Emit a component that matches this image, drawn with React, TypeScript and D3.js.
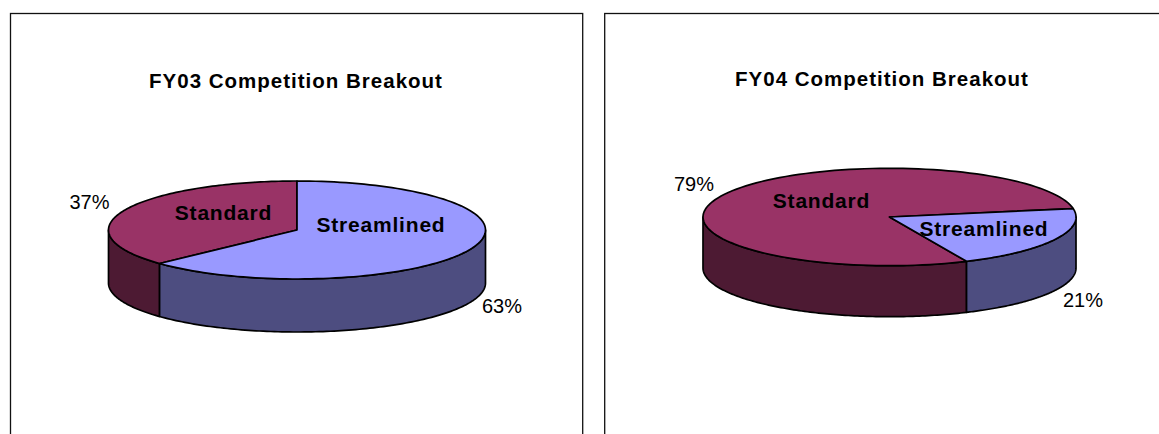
import React from "react";
import * as d3 from "d3";

const categories = ["Standard", "Streamlined"];
const fy03Values = [37, 63];
const fy04Values = [79, 21];
const titles = ["FY03 Competition Breakout", "FY04 Competition Breakout"];
const topColors = ["#993366", "#9999ff"];
const sideColors = ["#4d1a33", "#4d4d80"];
const FONT = '"Liberation Sans", Arial, sans-serif';

type PieCfg = {
  values: number[];
  title: string;
  titleX: number;
  titleY: number;
  frame: [number, number];
  cx: number;
  cy: number;
  rx: number;
  ry: number;
  depth: number;
  rotation: number;
  labelPos: [number, number][];
  pctPos: [number, number][];
};

const charts: PieCfg[] = [
  {
    values: fy03Values,
    title: titles[0],
    titleX: 296,
    titleY: 88,
    frame: [10.5, 582.7],
    cx: 297,
    cy: 230,
    rx: 188.5,
    ry: 49,
    depth: 53,
    rotation: 0,
    labelPos: [[223.5, 220], [381, 232]],
    pctPos: [[89.5, 209], [502, 313]],
  },
  {
    values: fy04Values,
    title: titles[1],
    titleX: 882,
    titleY: 86,
    frame: [604.7, 1170],
    cx: 889.5,
    cy: 217,
    rx: 186.5,
    ry: 48.7,
    depth: 51,
    rotation: 80,
    labelPos: [[821.5, 208], [984, 236]],
    pctPos: [[694, 191], [1083, 307]],
  },
];

function Pie3D({ c }: { c: PieCfg }) {
  const total = d3.sum(c.values);
  const offset = c.rotation * (Math.PI / 180);
  const start = offset - (2 * Math.PI * c.values[0]) / total;
  const arcs = d3.pie<number>().sort(null).startAngle(start).endAngle(start + 2 * Math.PI)(c.values);
  const px = (a: number) => c.cx + c.rx * Math.sin(a);
  const py = (a: number) => c.cy - c.ry * Math.cos(a);
  const steps = d3.range(0, 1.0001, 1 / 120);
  const rim = (s: number, e: number) => {
    const pieces: [number, number][] = [];
    for (let k = -1; k <= 1; k++) {
      const lo = Math.max(s, Math.PI / 2 + k * 2 * Math.PI);
      const hi = Math.min(e, (3 * Math.PI) / 2 + k * 2 * Math.PI);
      if (hi > lo) pieces.push([lo, hi]);
    }
    return pieces.map(([lo, hi]) => {
      const pts = steps.map((t) => lo + (hi - lo) * t);
      const top = pts.map((a) => [px(a), py(a)] as [number, number]);
      const bot = [...pts].reverse().map((a) => [px(a), py(a) + c.depth] as [number, number]);
      return d3.line()([...top, ...bot]) + "Z";
    });
  };
  const wedge = (s: number, e: number) => {
    const pts = steps.map((t) => s + (e - s) * t);
    return d3.line()([[c.cx, c.cy], ...pts.map((a) => [px(a), py(a)] as [number, number])]) + "Z";
  };
  return (
    <g>
      <rect x={c.frame[0]} y={13.5} width={c.frame[1] - c.frame[0]} height={440} fill="#fff" stroke="#111" strokeWidth={1.3} />
      <text x={c.titleX} y={c.titleY} textAnchor="middle" fontFamily={FONT} fontWeight="bold" fontSize={20.5} fill="#000" style={{ letterSpacing: "1px" }}>
        {c.title}
      </text>
      {arcs.map((a, i) =>
        rim(a.startAngle, a.endAngle).map((d, j) => (
          <path key={`r${i}${j}`} d={d} fill={sideColors[i]} stroke="#000" strokeWidth={1.7} strokeLinejoin="round" />
        ))
      )}
      {arcs.map((a, i) => (
        <path key={`t${i}`} d={wedge(a.startAngle, a.endAngle)} fill={topColors[i]} stroke="#000" strokeWidth={1.7} strokeLinejoin="round" />
      ))}
      {categories.map((name, i) => (
        <text key={name} x={c.labelPos[i][0]} y={c.labelPos[i][1]} textAnchor="middle" fontFamily={FONT} fontWeight="bold" fontSize={21} fill="#000" style={{ letterSpacing: "0.8px" }}>
          {name}
        </text>
      ))}
      {c.values.map((v, i) => (
        <text key={i} x={c.pctPos[i][0]} y={c.pctPos[i][1]} textAnchor="middle" fontFamily={FONT} fontSize={20} fill="#000">
          {v}%
        </text>
      ))}
    </g>
  );
}

export default function App() {
  return (
    <svg width={1159} height={434} style={{ position: "absolute", left: 0, top: 0, display: "block" }}>
      <rect width={1159} height={434} fill="#fff" />
      {charts.map((c) => (
        <Pie3D key={c.title} c={c} />
      ))}
    </svg>
  );
}
